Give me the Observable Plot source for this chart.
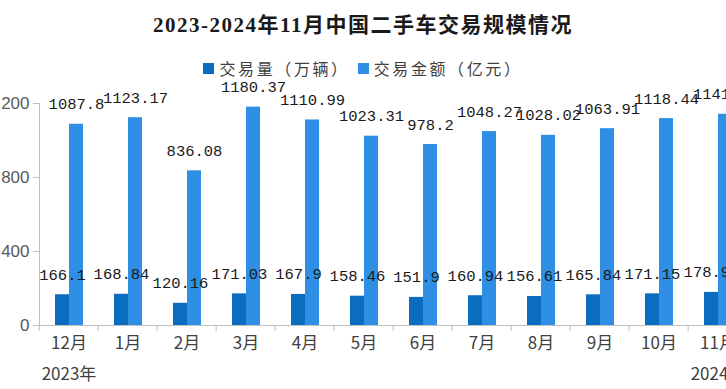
<!DOCTYPE html>
<html>
<head>
<meta charset="utf-8">
<script src="https://cdn.jsdelivr.net/npm/d3@7"></script>
<script src="https://cdn.jsdelivr.net/npm/@observablehq/plot@0.6"></script>
<style>
  html, body { margin: 0; padding: 0; background: #fff; overflow: hidden; width: 726px; height: 389px; }
  #title { height: 48px; line-height: 50px; text-align: center; font-family: "Liberation Serif", "Noto Sans CJK SC", serif; font-weight: bold; font-size: 21px; letter-spacing: 1.5px; color: #1a1a1a; white-space: nowrap; }
  #legend { height: 40px; display: flex; justify-content: center; align-items: center; font-family: "Noto Sans CJK SC", sans-serif; font-size: 16px; letter-spacing: 2.6px; color: #404040; gap: 8px; }
  .item { display: flex; align-items: center; gap: 5px; }
  .sw { width: 11px; height: 11px; display: inline-block; }
  #chart { position: relative; width: 760px; }
</style>
</head>
<body>
<div id="title">2023-2024年11月中国二手车交易规模情况</div>
<div id="legend"></div>
<div id="chart"></div>
<script>
const months = ["12月","1月","2月","3月","4月","5月","6月","7月","8月","9月","10月","11月"];
const seriesNames = ["交易量（万辆）","交易金额（亿元）"];
const volume = [166.1,168.84,120.16,171.03,167.9,158.46,151.9,160.94,156.61,165.84,171.15,178.95];
const amount = [1087.8,1123.17,836.08,1180.37,1110.99,1023.31,978.2,1048.27,1028.02,1063.91,1118.44,1141.57];
const yearLabels = ["2023年","2024年"];
const yearMonths = ["12月","11月"];
const yTicks = [0,400,800,1200];
const colors = ["#0A6DC0","#2E8FE4"];

const rows = months.flatMap((m, i) => [
  {month: m, series: seriesNames[0], value: volume[i]},
  {month: m, series: seriesNames[1], value: amount[i]}
]);
const years = yearLabels.map((t, i) => ({month: yearMonths[i], label: t}));

// legend
const legend = document.getElementById("legend");
seriesNames.forEach((s, i) => {
  const it = document.createElement("span");
  it.className = "item";
  it.innerHTML = `<span class="sw" style="background:${colors[i]}"></span><span>${s}</span>`;
  legend.appendChild(it);
});

const W = 760, H = 301, ML = 35, fxStep = 59.7;
const MR = W - ML - fxStep * months.length;

const chart = Plot.plot({
  width: W, height: H,
  marginLeft: ML, marginRight: MR, marginTop: 15, marginBottom: 64,
  style: {maxWidth: "none", overflow: "visible", background: "transparent", fontFamily: "Noto Sans CJK SC, sans-serif"},
  fx: {domain: months, padding: 0, label: null},
  x: {domain: seriesNames, paddingInner: 0, paddingOuter: 1.06, axis: null},
  y: {domain: [0, 1200]},
  color: {domain: seriesNames, range: colors},
  marks: [
    Plot.barY(rows, {fx: "month", x: "series", y: "value", fill: "series"}),
    Plot.ruleY([0], {stroke: "#bfbfbf", strokeWidth: 1.2}),
    Plot.frame({anchor: "left", stroke: "#bfbfbf", facetAnchor: "left"}),
    Plot.axisY({ticks: yTicks, tickSize: 6, tickPadding: 4, fontSize: 17, stroke: "#bfbfbf", fill: "#595959", label: null, fontFamily: "Liberation Sans, sans-serif"}),
    Plot.axisFx({anchor: "bottom", tickSize: 0, tickPadding: 11, fontSize: 17, fill: "#404040", label: null}),
    Plot.axisFx({anchor: "bottom", tickSize: 6, text: null, dx: -fxStep / 2, stroke: "#bfbfbf", label: null}),
    Plot.text(rows, {fx: "month", x: "series", y: "value", text: d => String(d.value), dy: -20, fontFamily: "Liberation Mono, monospace", fontSize: 15.5, fill: "#1a1a1a"}),
    Plot.text(years, {fx: "month", text: "label", frameAnchor: "bottom", dy: 54, fontSize: 17, fill: "#404040"})
  ]
});
document.getElementById("chart").appendChild(chart);
</script>
</body>
</html>
